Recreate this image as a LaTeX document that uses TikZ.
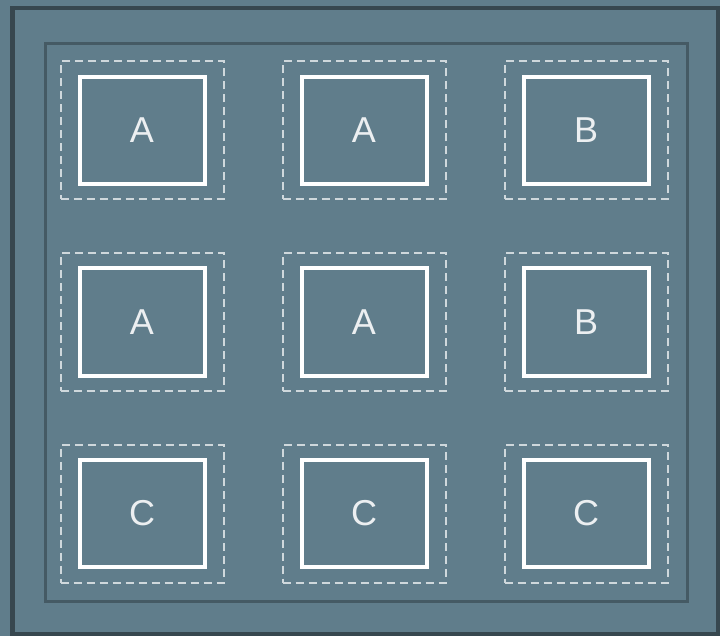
\documentclass[tikz,border=0pt]{standalone}
\usepackage{fontspec}
\setmainfont{Liberation Sans}
\definecolor{slate}{HTML}{607D8B}
\definecolor{slatedark}{HTML}{37474F}
\definecolor{slatemid}{HTML}{455A64}
\definecolor{paleline}{HTML}{CFD8DC}
\definecolor{paletext}{HTML}{ECEFF1}
\begin{document}
\begin{tikzpicture}[x=1pt,y=-1pt,line join=miter,
  slot/.style={draw=paleline,line width=2pt,dash pattern=on 8pt off 5pt,
    minimum width=163pt,minimum height=138pt,inner sep=0pt},
  cell/.style={draw=white,line width=4pt,minimum width=125pt,minimum height=107pt,
    inner sep=0pt,text=paletext,font=\fontsize{36}{36}\selectfont}]
  \useasboundingbox (0,0) rectangle (720,636);
  \fill[slate] (0,0) rectangle (720,636);
  \draw[slatedark,line width=4.5pt] (12.5,8) rectangle (718,634);
  \draw[slatemid,line width=3.3pt] (45.5,43.5) rectangle (687.7,601.7);

  % dashed frames
  \node[slot] (slot11) at (142,130.5) {};
  \node[slot] (slot12) at (364,130.5) {};
  \node[slot] (slot13) at (586,130.5) {};
  \node[slot] (slot21) at (142,322) {};
  \node[slot] (slot22) at (364,322) {};
  \node[slot] (slot23) at (586,322) {};
  \node[slot] (slot31) at (142,513.5) {};
  \node[slot] (slot32) at (364,513.5) {};
  \node[slot] (slot33) at (586,513.5) {};

  % cells
  \node[cell] (cell11) at (slot11) {A};
  \node[cell] (cell12) at (slot12) {A};
  \node[cell] (cell13) at (slot13) {B};
  \node[cell] (cell21) at (slot21) {A};
  \node[cell] (cell22) at (slot22) {A};
  \node[cell] (cell23) at (slot23) {B};
  \node[cell] (cell31) at (slot31) {C};
  \node[cell] (cell32) at (slot32) {C};
  \node[cell] (cell33) at (slot33) {C};
\end{tikzpicture}
\end{document}
